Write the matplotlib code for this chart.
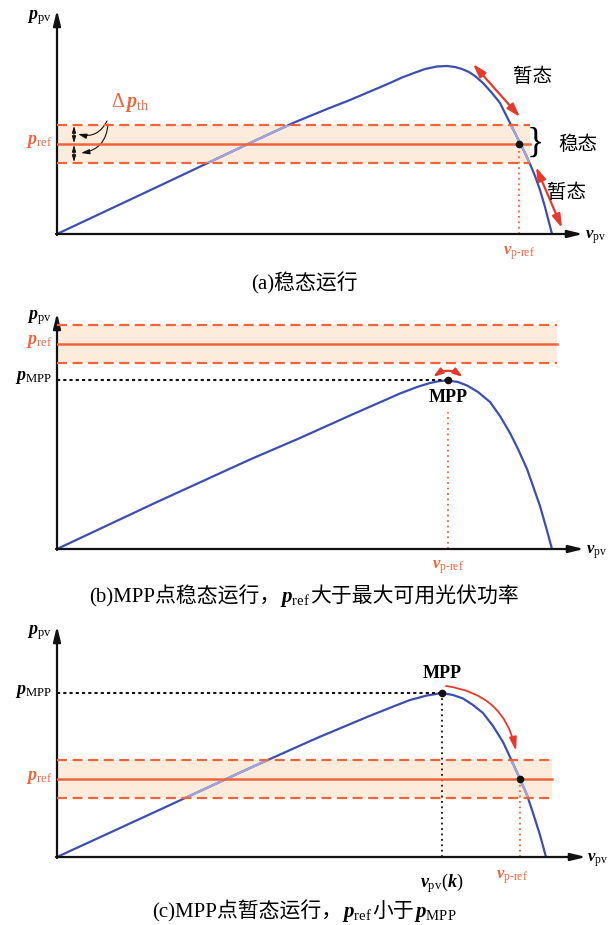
import matplotlib.pyplot as plt
from matplotlib.patches import Rectangle
from matplotlib.offsetbox import TextArea, HPacker, AnnotationBbox

plt.rcParams['font.family'] = ['Liberation Serif', 'Noto Sans CJK SC']
plt.rcParams['mathtext.fontset'] = 'custom'
plt.rcParams['mathtext.rm'] = 'Liberation Serif'
plt.rcParams['mathtext.it'] = 'Liberation Serif:italic:bold'
plt.rcParams['mathtext.bf'] = 'Liberation Serif:bold'

# P-V curves (voltage, power) for the three operating cases
v_a = [0, 100, 193, 236, 270, 293, 333, 345, 357, 368, 380, 390, 398, 405, 412, 418, 426,
       435, 443, 448, 453, 458, 463, 468, 473, 478, 483, 488, 495]
p_a = [0, 47, 91, 111, 125, 134, 151, 156.5, 161, 165, 167.5, 168, 167, 165, 162, 158, 151,
       141, 131, 121, 111, 101, 91, 81, 70, 58, 44, 27, 0]

v_b = [0, 100, 193, 243, 293, 343, 360, 373, 383, 391, 401, 410, 421, 433, 443, 453, 461,
       470, 476, 483, 489, 495]
p_b = [0, 47, 89.5, 111, 133.5, 155.5, 162, 166, 168, 168.5, 167, 163.5, 157, 147, 133, 116, 100,
       80, 63, 43, 22, 0]

v_c = [0, 100, 193, 213, 260, 310, 335, 353, 370, 385, 396, 406, 416, 426, 436, 446, 453,
       463, 470, 476, 483, 489]
p_c = [0, 46, 89, 98, 119, 140, 150, 157, 161.5, 164, 162, 158.5, 152, 144, 131, 115, 100,
       78, 62, 44, 22, 0]

# reference power and threshold band
p_ref = [90, 205, 78]
dp_th = [19, 19, 19]
band_end = [473, 500, 495]

# operating points
op_a = (462, 90)
mpp_b = (391, 169)
mpp_c = (385, 164)
op_c = (463, 78)

BLUE = '#3d4fae'
LAV = '#a2a4d8'
ORANGE = '#f0643c'
RED = '#e5392b'
FILL = '#fdecdb'

W, H = 608, 925
fig = plt.figure(figsize=(W / 100, H / 100), dpi=100)


def panel(ox, oy, top):
    w = W - ox
    h = oy - top
    ax = fig.add_axes([ox / W, (H - oy) / H, w / W, h / H])
    ax.set_xlim(0, w)
    ax.set_ylim(0, h)
    ax.axis('off')
    return ax


def axes_arrows(ax, xtip, ytip):
    kw = dict(arrowstyle='-|>,head_width=0.22,head_length=0.9', lw=1.6,
              color='#111111', shrinkA=0, shrinkB=0, mutation_scale=10)
    ax.annotate('', xy=(xtip, 0), xytext=(-1, 0), arrowprops=kw, annotation_clip=False)
    ax.annotate('', xy=(0, ytip), xytext=(0, -1), arrowprops=kw, annotation_clip=False)


def curve_with_band(ax, v, p, pr, dp, xend):
    ax.fill_between([0, xend], pr - dp, pr + dp, color=FILL, lw=0, zorder=1)
    ax.plot(v, p, color=BLUE, lw=1.6, zorder=2)
    # the part of the curve inside the band is drawn lighter
    inner = ax.plot(v, p, color=LAV, lw=1.7, zorder=3)[0]
    inner.set_clip_path(Rectangle((0, pr - dp), xend, 2 * dp, transform=ax.transData))
    ax.plot([0, xend], [pr, pr], color=ORANGE, lw=1.8, zorder=4)
    for y in (pr - dp, pr + dp):
        ax.plot([0, xend], [y, y], color=ORANGE, lw=1.6, ls=(0, (4.5, 2.5)), zorder=4)


def dotted_v(ax, x, y, color):
    ax.plot([x, x], [0, y], color=color, lw=1.3, ls=(0, (1, 2)), zorder=2)


def caption(parts, y):
    boxes = [TextArea(s, textprops=dict(fontsize=15)) for s in parts]
    pack = HPacker(children=boxes, align='baseline', pad=0, sep=0)
    fig.add_artist(AnnotationBbox(pack, (0.5, 1 - y / H), xycoords='figure fraction',
                                  frameon=False, box_alignment=(0.5, 0.5)))


lab = dict(fontsize=13, va='center')
ref_txt = r'$p_{\mathrm{ref}}$'
pv_txt = r'$p_{\mathrm{pv}}$'
mpp_txt = r'$p_{\mathrm{MPP}}$'
vref_txt = r'$v_{\mathrm{p\text{-}ref}}$'
vpv_txt = r'$v_{\mathrm{pv}}$'

# (a) steady operation
ax = panel(57, 234, 5)
curve_with_band(ax, v_a, p_a, p_ref[0], dp_th[0], band_end[0])
axes_arrows(ax, 526, 224)
dotted_v(ax, op_a[0], op_a[1], ORANGE)
ax.plot(*op_a, 'o', color='#111111', ms=4.5, zorder=6)
ax.text(-5, 216, pv_txt, ha='right', **lab)
ax.text(-5, 93, ref_txt, ha='right', color=ORANGE, **lab)
ax.text(528, -3, vpv_txt, ha='left', fontsize=12, va='center')
ax.text(op_a[0], -19, vref_txt, ha='center', color=ORANGE, fontsize=12, va='center')
ax.text(73, 132, r'$\Delta\, p_{\mathrm{th}}$', ha='center', color=ORANGE, fontsize=14.5, va='center')
for start, end in [((50, 113), (21, 100)), ((51, 110), (24, 81))]:
    ax.annotate('', xy=end, xytext=start, annotation_clip=False,
                arrowprops=dict(arrowstyle='-|>,head_width=0.15,head_length=0.5', lw=0.8,
                                color='#111111', connectionstyle='arc3,rad=-0.4',
                                shrinkA=0, shrinkB=0, mutation_scale=10))
for y0, y1 in [(p_ref[0] + 1, p_ref[0] + dp_th[0] - 1), (p_ref[0] - 1, p_ref[0] - dp_th[0] + 1)]:
    ax.annotate('', xy=(17, y1), xytext=(17, y0),
                arrowprops=dict(arrowstyle='<|-|>,head_width=0.12,head_length=0.4', lw=0.7,
                                color='#111111', shrinkA=0, shrinkB=0, mutation_scale=10),
                zorder=6)
red_kw = dict(arrowstyle='<|-|>,head_width=0.25,head_length=0.8', lw=1.6, color=RED,
              shrinkA=0, shrinkB=0, mutation_scale=10)
ax.annotate('', xy=(463, 117), xytext=(416, 170), arrowprops=red_kw, annotation_clip=False)
ax.annotate('', xy=(505, 6), xytext=(479, 67), arrowprops=red_kw, annotation_clip=False)
ax.text(478, p_ref[0] + 1, '}', fontsize=26, ha='center', va='center', family='Liberation Serif')
cn = dict(fontsize=14, ha='center', va='center', family='Noto Sans CJK SC')
ax.text(476, 157, '暂态', **cn)
ax.text(521, 89, '稳态', **cn)
ax.text(510, 41, '暂态', **cn)
caption(['(a)稳态运行'], 283)

# (b) steady operation at MPP, p_ref above the available PV power
ax = panel(57, 549, 308)
curve_with_band(ax, v_b, p_b, p_ref[1], dp_th[1], band_end[1])
axes_arrows(ax, 527, 236)
ax.plot([0, mpp_b[0]], [mpp_b[1], mpp_b[1]], color='#111111', lw=1.5, ls=(0, (1.5, 1.5)), zorder=2)
ax.plot([mpp_b[0], mpp_b[0]], [0, 137], color=ORANGE, lw=1.3, ls=(0, (1, 2)), zorder=2)
ax.plot(*mpp_b, 'o', color='#111111', ms=4.5, zorder=6)
ax.text(mpp_b[0], 151, 'MPP', ha='center', va='center', fontsize=13, fontweight='bold')
ax.annotate('', xy=(406, 172), xytext=(376, 172), annotation_clip=False,
            arrowprops=dict(arrowstyle='<|-|>,head_width=0.18,head_length=0.55', lw=1.6, color=RED,
                            connectionstyle='arc3,rad=-0.35', shrinkA=0, shrinkB=0, mutation_scale=10))
ax.text(-5, 231, pv_txt, ha='right', **lab)
ax.text(-5, p_ref[1] + 2, ref_txt, ha='right', color=ORANGE, **lab)
ax.text(-5, mpp_b[1] + 2, mpp_txt, ha='right', **lab)
ax.text(529, -3, vpv_txt, ha='left', fontsize=12, va='center')
ax.text(mpp_b[0], -18, vref_txt, ha='center', color=ORANGE, fontsize=12, va='center')
caption(['(b)MPP点稳态运行，', ref_txt, '大于最大可用光伏功率'], 597)

# (c) transient operation from MPP, p_ref below p_MPP
ax = panel(57, 857, 620)
curve_with_band(ax, v_c, p_c, p_ref[2], dp_th[2], band_end[2])
axes_arrows(ax, 529, 231)
ax.plot([0, mpp_c[0]], [mpp_c[1], mpp_c[1]], color='#111111', lw=1.5, ls=(0, (1.5, 1.5)), zorder=2)
dotted_v(ax, mpp_c[0], mpp_c[1], '#111111')
dotted_v(ax, op_c[0], op_c[1], ORANGE)
ax.plot(*mpp_c, 'o', color='#111111', ms=4.5, zorder=6)
ax.plot(*op_c, 'o', color='#111111', ms=4.5, zorder=6)
ax.text(mpp_c[0], 184, 'MPP', ha='center', va='center', fontsize=13, fontweight='bold')
ax.annotate('', xy=(459, 106), xytext=(389, 171), annotation_clip=False,
            arrowprops=dict(arrowstyle='-|>,head_width=0.22,head_length=0.8', lw=1.3, color=RED,
                            connectionstyle='arc3,rad=-0.35', shrinkA=0, shrinkB=0, mutation_scale=10))
ax.text(-5, 224, pv_txt, ha='right', **lab)
ax.text(-5, mpp_c[1] + 2, mpp_txt, ha='right', **lab)
ax.text(-5, p_ref[2] + 2, ref_txt, ha='right', color=ORANGE, **lab)
ax.text(530, -3, vpv_txt, ha='left', fontsize=12, va='center')
ax.text(mpp_c[0], -26, r'$v_{\mathrm{pv}}(k)$', ha='center', va='center', fontsize=13)
ax.text(455, -20, vref_txt, ha='center', color=ORANGE, fontsize=12, va='center')
caption(['(c)MPP点暂态运行，', ref_txt, '小于', mpp_txt], 912)

fig.savefig('out.png', dpi=100)
